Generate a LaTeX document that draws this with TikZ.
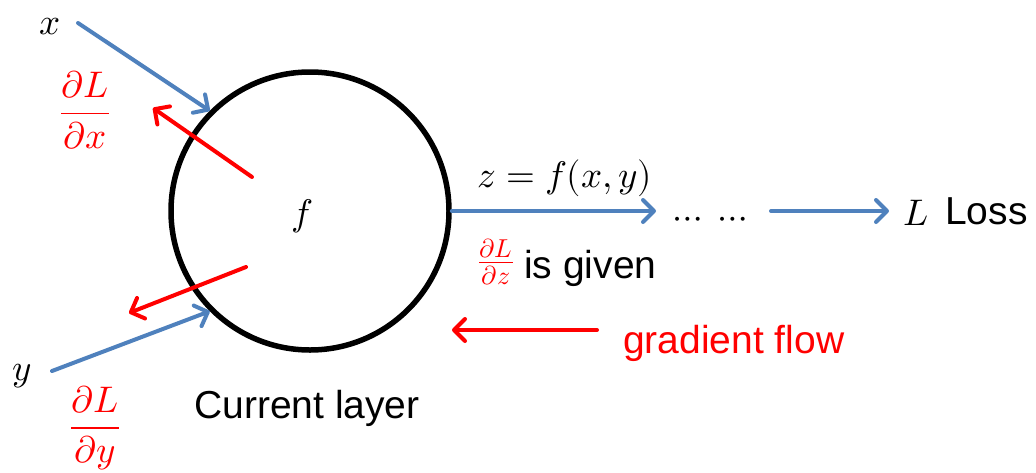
\documentclass[tikz,border=0pt]{standalone}
\usepackage{amsmath}
\usepackage{fontspec}
\usepackage{unicode-math}
\setmathfont{Latin Modern Math}
\setsansfont{Liberation Sans}
\usetikzlibrary{arrows.meta}
\definecolor{flowblue}{RGB}{79,129,189}
\definecolor{gradred}{RGB}{255,0,0}
\tikzset{
  mathlbl/.style={inner sep=0pt, font=\fontsize{37}{42}\selectfont},
  txtlbl/.style={inner sep=0pt, font=\fontsize{39}{44}\selectfont\sffamily},
  fwd/.style={draw=flowblue, line width=4pt, line cap=round,
    -{Straight Barb[length=11pt,width=22pt,line width=4pt,round]}},
  bwd/.style={draw=gradred, line width=4pt, line cap=round,
    -{Straight Barb[length=11pt,width=22pt,line width=4pt,round]}}
}
\begin{document}
\begin{tikzpicture}[x=1pt,y=-1pt]
\useasboundingbox (0,0) rectangle (1036,472);
% layer circle
\node[circle, draw, line width=5.5pt, minimum size=278pt, inner sep=0pt] (c) at (310,211) {};
\node[mathlbl] (f) at (302,216) {$f$};
% inputs
\node[mathlbl] (xl) at (50,27) {$x$};
\node[mathlbl] (yl) at (22,376) {$y$};
\coordinate (xs) at (78,23);
\coordinate (ys) at (52,371);
\draw[fwd] (xs) -- (c.135);
\draw[fwd] (ys) -- (c.225);
% backward gradients at inputs
\coordinate (gx1) at (252,177);
\coordinate (gx2) at (153,108);
\coordinate (gy1) at (246,267);
\coordinate (gy2) at (129,313);
\draw[bwd] (gx1) -- (gx2);
\draw[bwd] (gy1) -- (gy2);
\node[mathlbl, text=gradred] (dx) at (85,110) {$\displaystyle\frac{\partial L}{\partial x}$};
\node[mathlbl, text=gradred] (dy) at (95,428) {$\displaystyle\frac{\partial L}{\partial y}$};
% output
\node[mathlbl] (zl) at (565,178) {$z=f(x,y)$};
\coordinate (o1) at (656,211);
\draw[fwd] (c.east) -- (o1);
\node[mathlbl, anchor=base] (dots) at (710,228) {$\cdots\hspace{10pt}\cdots$};
\node[mathlbl] (L) at (916,213) {$L$};
\node[txtlbl, anchor=west] (loss) at (945,211) {Loss};
\coordinate (o2s) at (771,211);
\coordinate (o2e) at (889,211);
\draw[fwd] (o2s) -- (o2e);
% dL/dz is given
\node[mathlbl, text=gradred] (dz) at (496,262) {$\frac{\partial L}{\partial z}$};
\node[txtlbl, anchor=base west] (given) at (524,278) {is given};
% gradient flow
\coordinate (gf1) at (597,330);
\coordinate (gf2) at (452,330);
\draw[bwd] (gf1) -- (gf2);
\node[txtlbl, text=gradred, anchor=base west] (gflow) at (623,353) {gradient flow};
% caption
\node[txtlbl, anchor=base west] (cap) at (194,418) {Current layer};
\end{tikzpicture}
\end{document}
